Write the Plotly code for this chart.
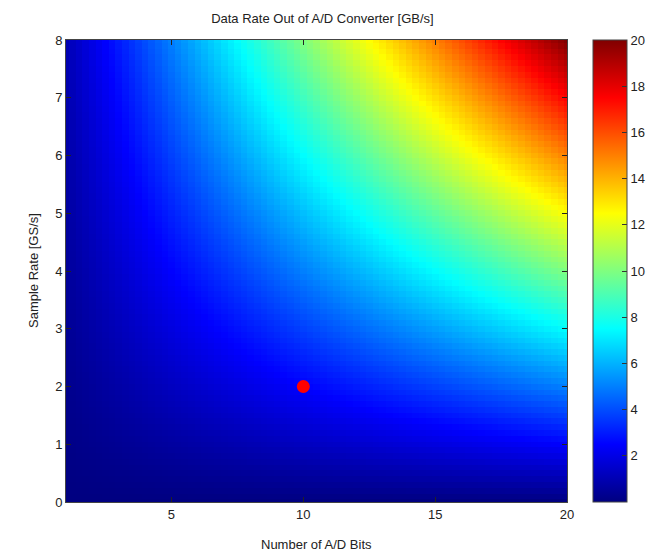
import numpy as np
import plotly.graph_objects as go

# Axis grids (A/D bits and sample rate in GS/s)
bits = np.round(np.arange(1, 20.01, 0.25), 2).tolist()
sample_rate = np.round(np.arange(0, 8.001, 0.1), 2).tolist()
# Data rate [GB/s] = bits * sample rate / 8
data_rate = [[b * s / 8 for b in bits] for s in sample_rate]

marker_bits = [10]
marker_rate = [2]

cbar_ticks = [2, 4, 6, 8, 10, 12, 14, 16, 18, 20]
x_ticks = [5, 10, 15, 20]
y_ticks = [0, 1, 2, 3, 4, 5, 6, 7, 8]

jet = [
    [0.0, "rgb(0,0,128)"],
    [0.125, "rgb(0,0,255)"],
    [0.375, "rgb(0,255,255)"],
    [0.625, "rgb(255,255,0)"],
    [0.875, "rgb(255,0,0)"],
    [1.0, "rgb(128,0,0)"],
]

FONT = "Liberation Sans, Arial, Helvetica, sans-serif"

fig = go.Figure()
fig.add_trace(go.Heatmap(
    x=bits, y=sample_rate, z=data_rate,
    colorscale=jet, zmin=0, zmax=20,
    zsmooth=False,
    colorbar=dict(
        tickvals=cbar_ticks,
        ticks="inside", ticklen=5, tickcolor="#333",
        thickness=34, len=1, lenmode="fraction",
        x=1.052, xanchor="left", xpad=0,
        y=0.5, yanchor="middle", ypad=0,
        outlinewidth=1, outlinecolor="#444",
        tickfont=dict(family=FONT, size=13, color="#222"),
    ),
    hoverinfo="skip",
))
fig.add_trace(go.Scatter(
    x=marker_bits, y=marker_rate, mode="markers",
    marker=dict(color="rgb(255,0,0)", size=13, line=dict(width=0)),
    showlegend=False,
))

axis_common = dict(
    showgrid=False, zeroline=False, automargin=False,
    ticks="inside", ticklen=5, tickcolor="#222",
    showline=True, linecolor="#444", linewidth=1, mirror="ticks",
    tickfont=dict(family=FONT, size=13, color="#222"),
)

fig.update_layout(
    width=655, height=546,
    margin=dict(l=58, r=88, t=32, b=52),
    paper_bgcolor="white", plot_bgcolor="white",
    title=dict(text="Data Rate Out of A/D Converter [GB/s]", x=0.48, xanchor="center",
               y=0.981, yanchor="middle",
               font=dict(family=FONT, size=13, color="#222")),
    xaxis=dict(range=[1, 20], tickvals=x_ticks, **axis_common),
    yaxis=dict(range=[0, 8], tickvals=y_ticks, **axis_common),
    annotations=[
        dict(text="Number of A/D Bits", xref="paper", yref="paper", x=0.5, y=0,
             xanchor="center", yanchor="middle", yshift=-42, showarrow=False,
             font=dict(family=FONT, size=13, color="#222")),
        dict(text="Sample Rate [GS/s]", xref="paper", yref="paper", x=0, y=0.5,
             xanchor="center", yanchor="middle", xshift=-33, textangle=-90, showarrow=False,
             font=dict(family=FONT, size=13, color="#222")),
    ],
    showlegend=False,
)

fig.write_html("out.html")
